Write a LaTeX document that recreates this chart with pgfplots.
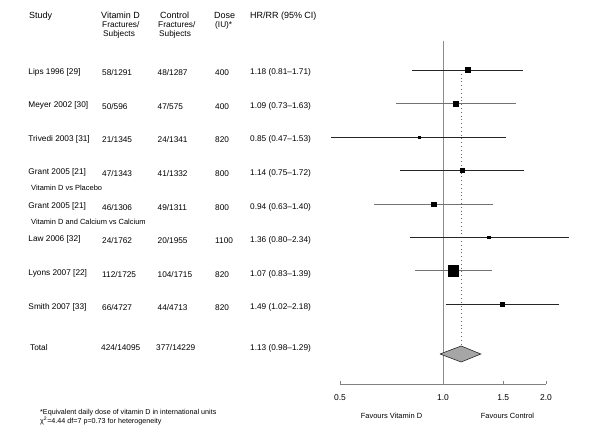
\documentclass[border=0pt]{standalone}
\usepackage{fontspec}
\setmainfont{Liberation Sans}
\usepackage{pgfplots}
\pgfplotsset{compat=1.18}

\newcommand\fhead{\fontsize{9}{10}\selectfont}
\newcommand\frow{\fontsize{8.3}{10}\selectfont}
\newcommand\fsub{\fontsize{7.5}{9}\selectfont}
\newcommand\fnote{\fontsize{7.2}{9}\selectfont}

% one study row: baseline y, name, vitamin D, control, dose, HR
\newcommand\studyrow[6]{%
  \node[font=\frow] at (28.3,#1) {#2};
  \node[font=\frow] at (102,#1+1.7) {#3};
  \node[font=\frow] at (157.5,#1+1.7) {#4};
  \node[font=\frow] at (215,#1+1.7) {#5};
  \node[font=\frow] at (250,#1+0.7) {#6};
}

\begin{document}
\begin{tikzpicture}
\path[use as bounding box] (0,0) rectangle (600bp,-435bp);

\begin{axis}[
    at={(340bp,-384bp)}, anchor=south west,
    scale only axis, width=206bp, height=384bp,
    xmode=log, log basis x=2,
    xmin=0.5, xmax=2, ymin=-384, ymax=0,
    enlargelimits=false,
    axis x line=bottom, axis y line=none,
    axis line style={black!50, line width=0.8bp, -},
    xtick={0.5,1,1.5,2},
    xticklabels={\textrm{0.5},\textrm{1.0},\textrm{1.5},\textrm{2.0}},
    tick align=inside, major tick length=3.5bp,
    x tick style={black!50, line width=0.8bp},
    xticklabel style={font=\fontsize{8.5}{10}\selectfont, yshift=-7bp},
    clip=false,
    unbounded coords=jump,
]
% line of no effect
\addplot[black!45, line width=1bp] coordinates {(1,-41) (1,-384)};
% pooled estimate
\addplot[black!60, line width=0.8bp, dash pattern=on 0.8bp off 3bp] coordinates {(1.13,-70) (1.13,-346)};

% confidence intervals
\addplot[black!85, line width=0.8bp] table {
x y
0.81 -70
1.71 -70
nan nan
0.47 -137
1.53 -137
nan nan
0.75 -170.3
1.72 -170.3
nan nan
0.80 -237.3
2.34 -237.3
nan nan
1.02 -304.3
2.18 -304.3
};
\addplot[black!55, line width=0.8bp] table {
x y
0.73 -103.7
1.63 -103.7
nan nan
0.63 -204
1.40 -204
nan nan
0.83 -270.7
1.39 -270.7
};

% point estimates, box size ~ weight
\addplot[only marks, mark=square*, scatter,
    scatter/use mapped color={draw=black, fill=black},
    visualization depends on={\thisrow{s} \as \ms},
    scatter/@pre marker code/.append style={/tikz/mark size=\ms}]
table {
hr y s
1.18 -70 2.7
1.09 -103.7 2.2
0.85 -137 1.0
1.14 -170.3 2.1
0.94 -204 2.3
1.36 -237.3 1.2
1.07 -270.7 5.3
1.49 -304.3 2.4
};

% total
\addplot[fill=black!35, draw=black!85, line width=0.6bp]
  coordinates {(0.98,-354) (1.13,-346) (1.29,-354) (1.13,-362) (0.98,-354)};
\end{axis}

\begin{scope}[x=1bp, y=-1bp, every node/.style={inner sep=0pt, anchor=base west}]
\node[font=\fhead] at (29,18.3) {Study};
\node[font=\fhead] at (101,18.3) {Vitamin D};
\node[font=\frow] at (102,27.3) {Fractures/};
\node[font=\frow] at (103,36.3) {Subjects};
\node[font=\fhead] at (160,18.3) {Control};
\node[font=\frow] at (158,27.3) {Fractures/};
\node[font=\frow] at (159,36.3) {Subjects};
\node[font=\fhead] at (214,18.3) {Dose};
\node[font=\frow] at (215,27.3) {(IU)*};
\node[font=\fhead] at (250,18.3) {HR/RR (95\% CI)};

\studyrow{74}{Lips 1996 [29]}{58/1291}{48/1287}{400}{1.18 (0.81–1.71)}
\studyrow{107.6}{Meyer 2002 [30]}{50/596}{47/575}{400}{1.09 (0.73–1.63)}
\studyrow{141.1}{Trivedi 2003 [31]}{21/1345}{24/1341}{820}{0.85 (0.47–1.53)}
\studyrow{174.7}{Grant 2005 [21]}{47/1343}{41/1332}{800}{1.14 (0.75–1.72)}
\studyrow{208.3}{Grant 2005 [21]}{46/1306}{49/1311}{800}{0.94 (0.63–1.40)}
\studyrow{241.9}{Law 2006 [32]}{24/1762}{20/1955}{1100}{1.36 (0.80–2.34)}
\studyrow{275.4}{Lyons 2007 [22]}{112/1725}{104/1715}{820}{1.07 (0.83–1.39)}
\studyrow{309}{Smith 2007 [33]}{66/4727}{44/4713}{820}{1.49 (1.02–2.18)}

\node[font=\fsub] at (31,190.5) {Vitamin D vs Placebo};
\node[font=\fsub] at (31,224.5) {Vitamin D and Calcium vs Calcium};

\node[font=\frow] at (30,350.7) {Total};
\node[font=\frow] at (101,350.7) {424/14095};
\node[font=\frow] at (156,350.7) {377/14229};
\node[font=\frow] at (250,350.7) {1.13 (0.98–1.29)};

\node[font=\fnote] at (40,414) {*Equivalent daily dose of vitamin D in international units};
\node[font=\fnote] at (40,423.5) {χ\textsuperscript{2}=4.44 df=7 p=0.73 for heterogeneity};

\node[font=\fsub, anchor=base] at (391.5,418) {Favours Vitamin D};
\node[font=\fsub, anchor=base] at (507.5,418) {Favours Control};
\end{scope}
\end{tikzpicture}
\end{document}
